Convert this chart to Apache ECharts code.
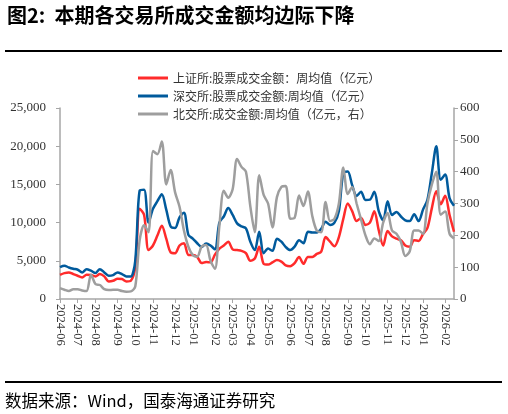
<!DOCTYPE html>
<html>
<head>
<meta charset="utf-8">
<script src="https://cdn.jsdelivr.net/npm/echarts@6/dist/echarts.min.js"></script>
<style>html,body{margin:0;padding:0;background:#fff;}#c{width:508px;height:414px;}</style>
</head>
<body>
<div id="c"></div>
<script>
// weekly dates (week-ending Fridays)
var startDate = '2024-06-07';
var weekCount = 90;
var dates = [];
(function(){
  var d = new Date(startDate + 'T00:00:00Z');
  for (var i = 0; i < weekCount; i++) {
    dates.push(d.toISOString().slice(0,10));
    d = new Date(d.getTime() + 7*86400000);
  }
})();

var seriesNames = ['上证所:股票成交金额：周均值（亿元）','深交所:股票成交金额:周均值（亿元）','北交所:成交金额:周均值（亿元，右）'];

var shValues = [3170,3390,3480,3260,3040,2830,3170,3130,2960,3260,
2960,2300,2390,2650,2610,2300,2390,4200,11800,11000,
6400,7000,8300,9600,7900,6100,6000,7000,7300,5760,
5760,5500,4700,4850,4800,5800,6600,7000,7500,6500,
6400,6300,6000,5000,5300,6850,4600,4500,4800,5100,
4900,4400,4300,4700,5500,4600,5500,5500,5900,6200,
8100,7500,6900,8100,10500,12500,11500,10200,10600,9700,
10000,11500,9000,7000,8900,8200,7900,7700,7000,6850,
7700,7600,8500,9300,11900,14100,12400,13500,11000,8800];

var szValues = [4170,4350,4130,3960,3830,3480,3910,3700,3390,3910,
3480,3040,3130,3480,3260,2960,2960,5000,14200,14300,
10000,11800,12800,13700,11700,9500,9300,10700,11300,8400,
7900,7300,6800,7280,7000,6500,10000,10800,11900,11000,
9900,9500,9250,7500,6400,8800,6000,6600,6300,7900,
7500,6800,6400,6850,7700,7300,8800,8700,8700,9200,
10100,9700,10000,11500,16500,16700,14900,13480,14040,12960,
13000,14040,11500,10300,12800,11000,11400,10800,10300,10200,
11100,10200,11700,13000,16500,20000,15600,16300,13200,12200];

var bjValues = [34,29,25,31,31,27,25,76,47,44,
31,28,29,29,25,23,24,39,185,232,
210,465,455,495,360,405,335,290,215,164,
138,133,165,170,120,95,230,340,318,345,
440,415,400,290,210,389,327,300,225,320,
352,355,252,255,325,292,338,260,215,210,
305,245,252,300,413,330,352,300,250,200,
172,190,182,240,270,215,205,180,135,150,
215,215,205,300,360,400,265,275,205,190];

var leftTicks = {min:0, max:25000, interval:5000};
var rightTicks = {min:0, max:600, interval:100};

function isMonthStart(idx){
  if (idx === 0) return true;
  return dates[idx].slice(5,7) !== dates[idx-1].slice(5,7);
}

var chart = echarts.init(document.getElementById('c'), null, {renderer:'canvas'});
var axisColor = '#a6a6a6';
var labelFont = 'Liberation Serif';
var option = {
  backgroundColor:'#fff',
  animation:false,
  graphic:[
    {type:'text', left:7, top:5, style:{text:'图2:  本期各交易所成交金额均边际下降', font:'bold 20px "Noto Sans CJK SC"', fill:'#000'}},
    {type:'line', shape:{x1:5,y1:51,x2:502,y2:51}, style:{stroke:'#000', lineWidth:2}},
    {type:'line', shape:{x1:5,y1:382,x2:502,y2:382}, style:{stroke:'#000', lineWidth:2}},
    {type:'text', left:5, top:392, style:{text:'数据来源：Wind，国泰海通证券研究', font:'16.5px "Noto Sans CJK SC"', fill:'#000'}}
  ],
  legend:{
    orient:'vertical', left:133, top:66, itemWidth:30, itemHeight:3, itemGap:4, icon:'rect',
    textStyle:{fontFamily:'Noto Sans CJK SC', fontSize:12, color:'#333', lineHeight:14},
    data:seriesNames
  },
  grid:{left:60, right:54, top:108, bottom:115, containLabel:false},
  xAxis:{
    type:'category', data:dates, boundaryGap:false,
    axisLine:{lineStyle:{color:axisColor, width:1.5}},
    axisTick:{show:true, interval:function(i){return isMonthStart(i);}, length:4, lineStyle:{color:axisColor}},
    axisLabel:{interval:function(i){return isMonthStart(i);}, rotate:-90, margin:5, color:'#333',
      fontFamily:labelFont, fontSize:12.5,
      formatter:function(v){return v.slice(0,7);}},
    splitLine:{show:false}
  },
  yAxis:[
    {type:'value', min:leftTicks.min, max:leftTicks.max, interval:leftTicks.interval,
     axisLine:{show:true, lineStyle:{color:axisColor, width:1.5}},
     axisTick:{show:true, length:4, lineStyle:{color:axisColor}},
     axisLabel:{margin:14, color:'#333', fontFamily:labelFont, fontSize:13,
       formatter:function(v){return v.toLocaleString('en-US');}},
     splitLine:{show:false}},
    {type:'value', min:rightTicks.min, max:rightTicks.max, interval:rightTicks.interval, position:'right',
     axisLine:{show:true, lineStyle:{color:axisColor, width:1.5}},
     axisTick:{show:true, length:4, lineStyle:{color:axisColor}},
     axisLabel:{margin:6, color:'#333', fontFamily:labelFont, fontSize:13},
     splitLine:{show:false}}
  ],
  series:[
    {name:seriesNames[0], type:'line', data:shValues, yAxisIndex:0, showSymbol:false, smooth:0.3,
     lineStyle:{color:'#ff2b2b', width:2.5}, itemStyle:{color:'#ff2b2b'}},
    {name:seriesNames[1], type:'line', data:szValues, yAxisIndex:0, showSymbol:false, smooth:0.3,
     lineStyle:{color:'#005a9c', width:2.5}, itemStyle:{color:'#005a9c'}},
    {name:seriesNames[2], type:'line', data:bjValues, yAxisIndex:1, showSymbol:false, smooth:0.3,
     lineStyle:{color:'#9e9e9e', width:2.5}, itemStyle:{color:'#9e9e9e'}}
  ]
};
chart.setOption(option);
</script>
</body>
</html>
